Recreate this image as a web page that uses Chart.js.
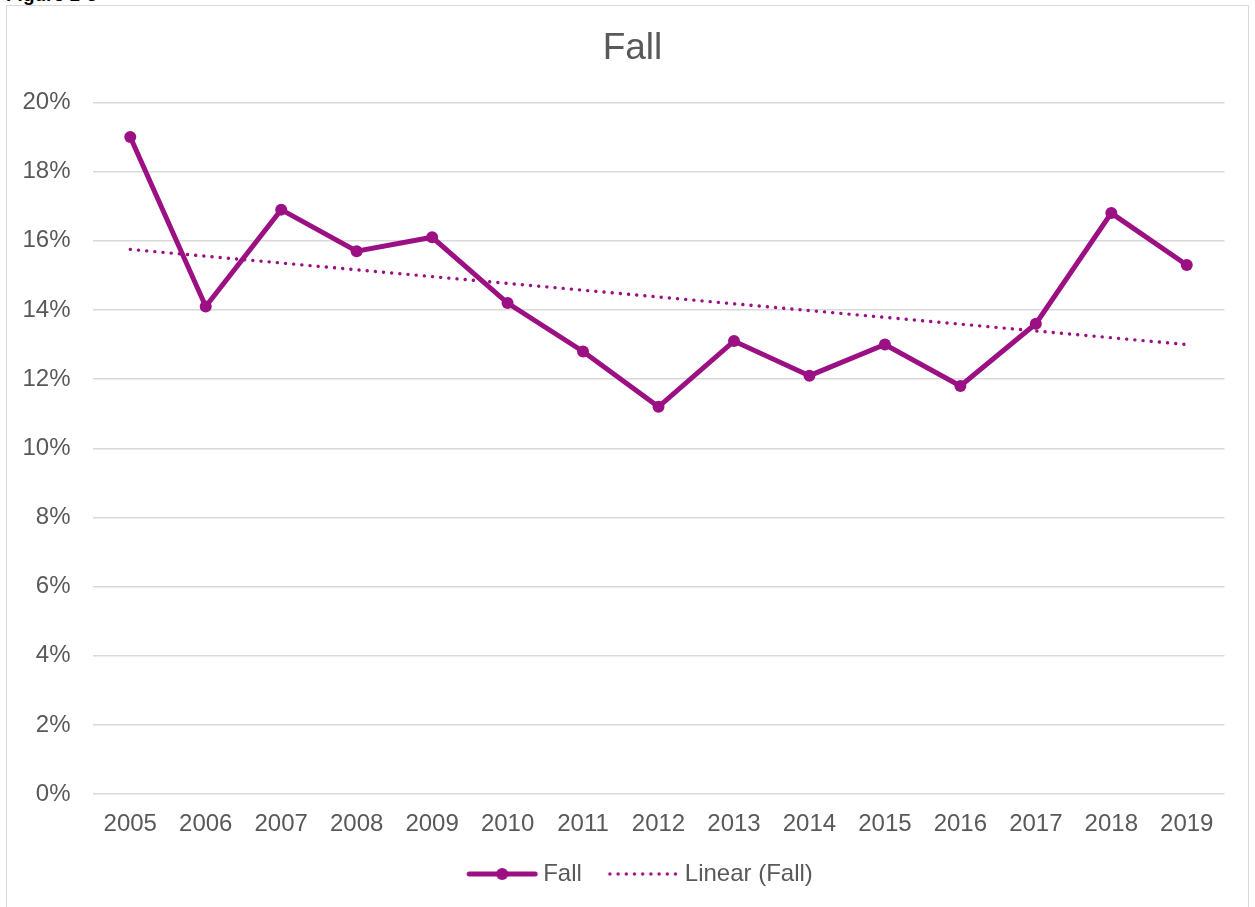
<!DOCTYPE html>
<html>
<head>
<meta charset="utf-8">
<script src="https://cdn.jsdelivr.net/npm/chart.js@4.4.1/dist/chart.umd.min.js"></script>
<style>
  html, body { margin: 0; padding: 0; background: #fff; overflow: hidden; }
  body { width: 1255px; height: 907px; position: relative; font-family: "Liberation Sans", Arial, sans-serif; }
  #fig { position: absolute; left: 6px; top: -16px; font-size: 19px; font-weight: bold; color: #000; margin: 0; line-height: 22px; }
  #frame { position: absolute; left: 6px; top: 5px; width: 1243px; height: 910px; border: 1.5px solid #d9d9d9; box-sizing: border-box; }
  #wrap { position: absolute; left: -14px; top: 0; width: 1262px; height: 902px; }
</style>
</head>
<body>
<div id="fig">Figure 1-6</div>
<div id="frame">
  <div id="wrap"><canvas id="fallChart"></canvas></div>
</div>
<script>
const years = ['2005', '2006', '2007', '2008', '2009', '2010', '2011', '2012', '2013', '2014', '2015', '2016', '2017', '2018', '2019'];
const fall = [19.0, 14.1, 16.9, 15.7, 16.1, 14.2, 12.8, 11.2, 13.1, 12.1, 13.0, 11.8, 13.6, 16.8, 15.3];
// trendline ends, joined straight across
const trend = [15.75, null, null, null, null, null, null, null, null, null, null, null, null, null, 13.0];
const yTicks = [0, 2, 4, 6, 8, 10, 12, 14, 16, 18, 20];

document.addEventListener('DOMContentLoaded', () => {
  const purple = '#9b1082';
  const grey = '#595959';
  const font = (size) => ({ family: 'Liberation Sans', size: size });

  // legend swatches: drawn at the right end of a wider transparent image
  const boxW = 75;
  function swatch(dotted) {
    const c = document.createElement('canvas');
    c.width = boxW + 16; c.height = 16;
    const g = c.getContext('2d');
    const x0 = c.width - 73;
    g.strokeStyle = purple;
    g.fillStyle = purple;
    g.lineCap = 'round';
    if (dotted) {
      for (let x = x0 + 2; x <= c.width - 3; x += 8.2) {
        g.beginPath(); g.arc(x, 8, 1.7, 0, Math.PI * 2); g.fill();
      }
    } else {
      g.lineWidth = 5;
      g.beginPath(); g.moveTo(x0 + 3, 8); g.lineTo(c.width - 4, 8); g.stroke();
      g.beginPath(); g.arc(x0 + 36, 8, 6, 0, Math.PI * 2); g.fill();
    }
    return c;
  }
  const swFall = swatch(false);
  const swTrend = swatch(true);

  // centre title and legend on the whole frame rather than the padded box
  const shiftBoxes = {
    id: 'shiftBoxes',
    afterLayout(chart) {
      const t = chart.titleBlock, l = chart.legend;
      if (t) { t.left += 20; t.right += 20; }
      if (l) { l.left += 22; l.right += 22; }
    }
  };

  const ctx = document.getElementById('fallChart').getContext('2d');
  new Chart(ctx, {
    type: 'line',
    data: {
      labels: years,
      datasets: [
        {
          label: 'Fall',
          data: fall,
          borderColor: purple,
          backgroundColor: purple,
          borderWidth: 5,
          pointRadius: 6,
          pointBackgroundColor: purple,
          pointBorderWidth: 0,
          tension: 0
        },
        {
          label: 'Linear (Fall)',
          data: trend,
          spanGaps: true,
          borderColor: purple,
          borderWidth: 3.4,
          borderDash: [0.1, 8.1],
          borderCapStyle: 'round',
          pointRadius: 0,
          tension: 0
        }
      ]
    },
    options: {
      responsive: true,
      maintainAspectRatio: false,
      animation: false,
      layout: { padding: { left: 7.5, right: 30.5, top: 0, bottom: 12 } },
      plugins: {
        title: {
          display: true,
          text: 'Fall',
          color: grey,
          font: { family: 'Liberation Sans', size: 37, weight: 'normal' },
          padding: { top: 21, bottom: 31 }
        },
        legend: {
          position: 'bottom',
          labels: {
            color: grey,
            font: font(24),
            usePointStyle: true,
            pointStyleWidth: boxW,
            padding: 16,
            generateLabels: (chart) => chart.data.datasets.map((ds, i) => ({
              text: ds.label,
              fontColor: grey,
              pointStyle: i === 0 ? swFall : swTrend,
              datasetIndex: i,
              hidden: false,
              lineWidth: 0
            }))
          }
        },
        tooltip: { enabled: false }
      },
      scales: {
        x: {
          offset: true,
          grid: { display: false },
          border: { display: false },
          ticks: { color: grey, font: font(24), padding: 7.5, maxRotation: 0 }
        },
        y: {
          min: 0,
          max: 20,
          afterBuildTicks: (axis) => { axis.ticks = yTicks.map(v => ({ value: v })); },
          grid: { color: '#d9d9d9', lineWidth: 1.5, drawTicks: false },
          border: { display: false },
          ticks: {
            color: grey,
            font: font(24),
            padding: 22,
            callback: (v) => v + '%'
          }
        }
      }
    },
    plugins: [shiftBoxes]
  });
});
</script>
</body>
</html>
